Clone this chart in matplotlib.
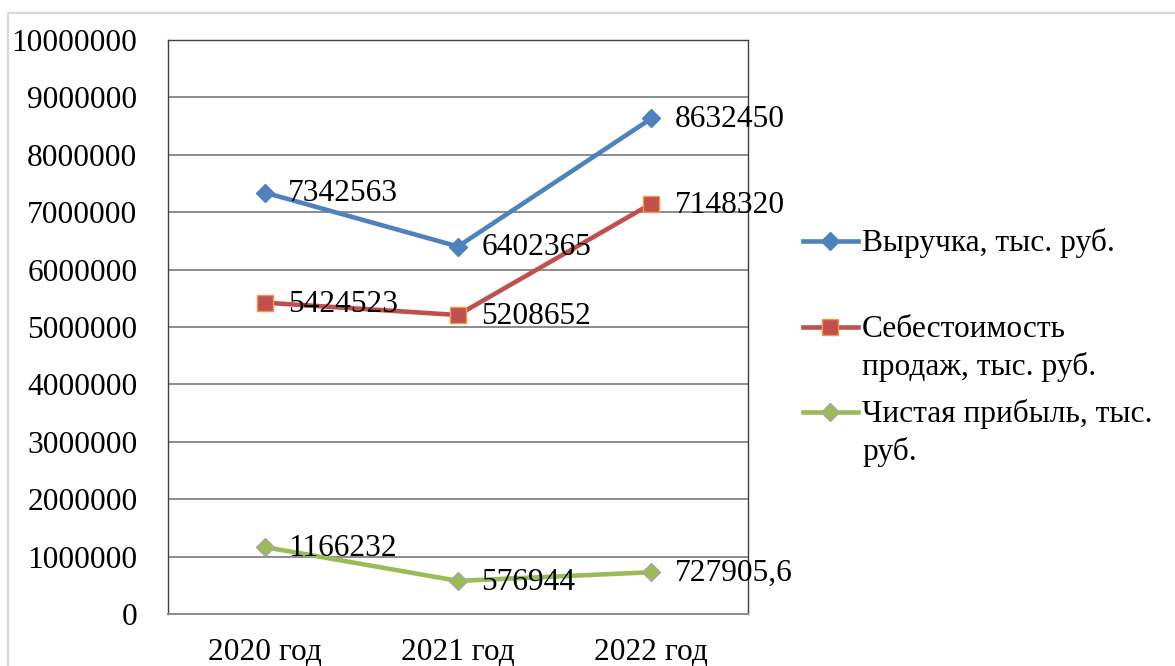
import matplotlib
matplotlib.use("Agg")
import matplotlib.pyplot as plt
from matplotlib.lines import Line2D
from matplotlib.patches import Rectangle

plt.rcParams["font.family"] = ["Liberation Serif", "DejaVu Serif"]

# ── data ─────────────────────────────────────────────
years = ["2020 год", "2021 год", "2022 год"]
revenue = [7342563, 6402365, 8632450]
cost = [5424523, 5208652, 7148320]
profit = [1166232, 576944, 727905.6]

series_labels = ["Выручка, тыс. руб.",
                 "Себестоимость\nпродаж, тыс. руб.",
                 "Чистая прибыль, тыс.\nруб."]
yticks = list(range(0, 10000001, 1000000))

BLUE, RED, GREEN = "#4F81BD", "#C0504D", "#9BBB59"
FS = 22.6

fig = plt.figure(figsize=(11.75, 6.66), dpi=100)
ax = fig.add_axes([168 / 1175, 52 / 666, 580 / 1175, 574 / 666])

# outer chart border
fig.add_artist(Rectangle((8 / 1175, -0.1), 1.2, 1 - 13 / 666 + 0.1,
                         transform=fig.transFigure, fill=False,
                         edgecolor="#D9D9D9", lw=1.6))

x = list(range(len(years)))
styles = [
    (revenue, BLUE, dict(marker="D", ms=9, mfc=BLUE, mec=BLUE)),
    (cost, RED, dict(marker="s", ms=11.5, mfc=RED, mec="#F79646", mew=1)),
    (profit, GREEN, dict(marker="D", ms=9, mfc=GREEN, mec="#A6A6A6", mew=1)),
]
for vals, col, mk in styles:
    ax.plot(x, vals, color=col, lw=3.3, zorder=3, clip_on=False, **mk)

# data labels
for vals, _, _ in styles:
    for xi, v in zip(x, vals):
        txt = str(v).replace(".", ",")
        ax.annotate(txt, (xi, v), xytext=(17, -1), textcoords="offset points",
                    va="center", ha="left", fontsize=FS, zorder=4,
                    annotation_clip=False)

ax.set_xlim(-0.5, 2.5)
ax.set_ylim(0, 10000000)
ax.set_yticks(yticks)
ax.set_yticklabels([str(t) for t in yticks], fontsize=FS)
ax.set_xticks(x)
ax.set_xticklabels(years, fontsize=FS)
ax.tick_params(axis="y", length=0, pad=22)
ax.tick_params(axis="x", length=0, pad=17)
ax.grid(axis="y", color="#8C8C8C", lw=1.4)
ax.set_axisbelow(True)
for s in ["left", "top", "right"]:
    ax.spines[s].set_color("#404040")
    ax.spines[s].set_linewidth(1.0)
ax.spines["bottom"].set_color("#8C8C8C")
ax.spines["bottom"].set_linewidth(1.4)

# legend, handle aligned with the first text line
# (matplotlib puts a multi-line "baseline" on the last line, so shift by line count)
leg_y = [241, 327, 412]
for (vals, col, mk), lab, yp in zip(styles, series_labels, leg_y):
    yf = 1 - yp / 666
    fig.add_artist(Line2D([803 / 1175, 858 / 1175], [yf, yf], color=col, lw=3.3,
                          transform=fig.transFigure))
    fig.add_artist(Line2D([830 / 1175], [yf], color=col, lw=0,
                          transform=fig.transFigure, **mk))
    base = yp + 10 + 38 * lab.count("\n")
    fig.text(862 / 1175, 1 - base / 666, lab, fontsize=FS, va="baseline",
             ha="left", linespacing=1.33)

fig.savefig("out.png", dpi=100)
